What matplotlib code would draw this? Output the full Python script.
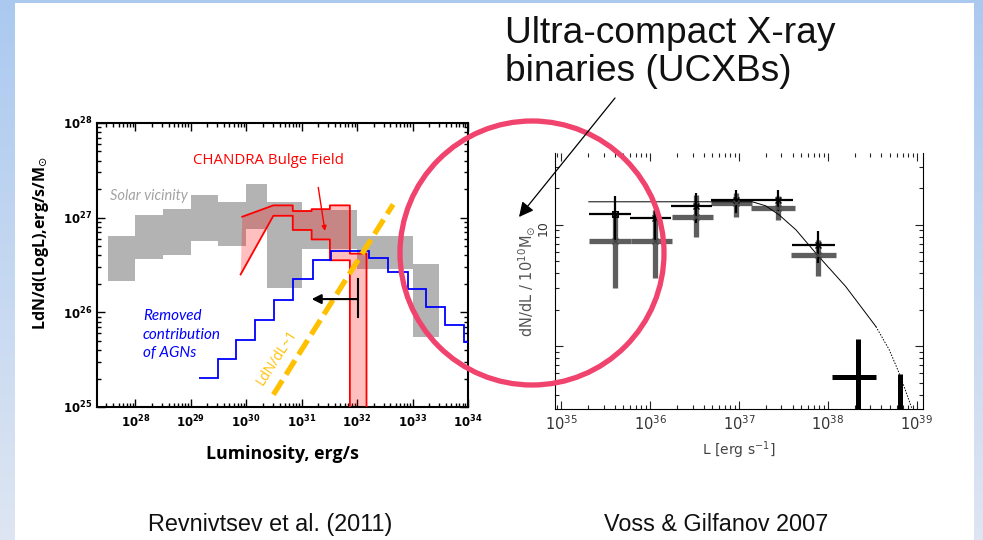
import numpy as np
import matplotlib
matplotlib.use("Agg")
import matplotlib.pyplot as plt
from matplotlib import patches
from matplotlib.ticker import LogLocator, NullFormatter, FixedLocator, FixedFormatter

# ---------------- data: left panel (log10 values) ----------------
gray_edges = [27.5, 28.0, 28.5, 29.0, 29.5, 30.0, 30.37, 31.0, 32.0, 33.0, 33.48]
gray_top = [26.81, 27.03, 27.09, 27.24, 27.17, 27.36, 27.17, 27.08, 26.81, 26.51]
gray_bot = [26.33, 26.56, 26.61, 26.75, 26.70, 26.88, 26.26, 26.67, 26.46, 25.74]

red_edges = [30.49, 30.84, 31.18, 31.51, 31.87, 32.17]
red_upper = [27.13, 27.07, 27.09, 27.13, 26.62]
red_lower = [27.02, 26.87, 26.77, 26.55, 25.0]
red_ramp_L = [29.93, 29.90]          # start of upper / lower ramps
red_ramp_Y = [27.01, 26.40]

blue_edges = [29.15, 29.49, 29.82, 30.16, 30.50, 30.84, 31.20, 31.53, 31.87,
              32.22, 32.56, 32.91, 33.24, 33.59, 33.93, 34.0]
blue_vals = [25.31, 25.51, 25.71, 25.92, 26.13, 26.35, 26.55, 26.65, 26.65,
             26.57, 26.43, 26.25, 26.06, 25.87, 25.69]

orange_L = [30.49, 32.65]
orange_Y = [25.13, 27.14]

limit_L = [32.01, 31.18]      # upper-limit arrow (from, to)
limit_Y = 26.14
limit_bar = [25.95, 26.35]

left_xticks = [28, 29, 30, 31, 32, 33, 34]
left_yticks = [25, 26, 27, 28]

# ---------------- data: right panel ----------------
# thick gray series
g_L = [35.61, 36.06, 36.52, 36.97, 37.44, 37.89]
g_Llo = [35.31, 35.78, 36.25, 36.68, 37.13, 37.58]
g_Lhi = [35.78, 36.25, 36.71, 37.15, 37.63, 38.09]
g_Y = [0.863, 0.863, 1.06, 1.178, 1.142, 0.753]
g_Ylo = [0.479, 0.562, 0.896, 1.063, 1.036, 0.575]
g_Yhi = [1.096, 1.12, 1.247, 1.26, 1.233, 0.877]

# thin black series
b_L = [35.61, 36.06, 36.52, 36.97, 37.44, 37.89]
b_Llo = [35.31, 35.77, 36.23, 36.68, 37.16, 37.60]
b_Lhi = [35.79, 36.24, 36.70, 37.16, 37.61, 38.08]
b_Y = [1.090, 1.052, 1.151, 1.20, 1.205, 0.833]
b_Ylo = [0.86, 0.877, 1.014, 1.096, 1.11, 0.685]
b_Yhi = [1.233, 1.184, 1.26, 1.288, 1.288, 0.945]

# thick black (high luminosity) points
k_L = [38.34, 38.81]
k_Llo = [38.05, 38.62]
k_Lhi = [38.54, 38.98]
k_Y = [-0.247, -0.70]
k_Ylo = [-0.80, -0.90]
k_Yhi = [0.06, -0.227]

# model curve
m_L = [35.31, 37.15, 37.30, 37.45, 37.64, 37.89, 38.20, 38.54, 38.69, 38.81, 38.95]
m_Y = [1.189, 1.189, 1.156, 1.082, 0.959, 0.745, 0.493, 0.164, -0.027, -0.233, -0.52]
m_split = 7   # solid up to this index, dotted afterwards

right_xticks = [35, 36, 37, 38, 39]

W, H = 983, 540
fig = plt.figure(figsize=(W / 100, H / 100), dpi=100)

# ---------------- slide background ----------------
axbg = fig.add_axes([0, 0, 1, 1], zorder=-10)
grad = np.linspace(0, 1, 256)[:, None]
c_top = np.array([0.67, 0.79, 0.94])
c_bot = np.array([0.87, 0.90, 0.95])
img = c_top[None, None, :] * (1 - grad[:, :, None]) + c_bot[None, None, :] * grad[:, :, None]
axbg.imshow(img, extent=(0, W, H, 0), aspect='auto')
axbg.add_patch(patches.Rectangle((15, 3), 974 - 15, H - 3, color='white', lw=0))
axbg.set_xlim(0, W); axbg.set_ylim(H, 0); axbg.axis('off')


def frac(x0, y0, x1, y1):
    return [x0 / W, 1 - y1 / H, (x1 - x0) / W, (y1 - y0) / H]


p = lambda v: 10 ** np.asarray(v, dtype=float)

# ---------------- left panel ----------------
axl = fig.add_axes(frac(97, 123, 468, 407))
axl.set_xscale('log'); axl.set_yscale('log')
axl.set_xlim(p(27.31), p(34.0)); axl.set_ylim(p(25), p(28))

axl.stairs(p(gray_top), p(gray_edges), baseline=p(gray_bot), fill=True,
           color='#b3b3b3', lw=0, zorder=1)

# red band
up_x = [red_ramp_L[0]]; up_y = [red_ramp_Y[0]]
for i, v in enumerate(red_upper):
    up_x += [red_edges[i], red_edges[i + 1]]; up_y += [v, v]
up_x += [red_edges[-1]]; up_y += [25.0]
lo_x = [red_ramp_L[1]]; lo_y = [red_ramp_Y[1]]
for i, v in enumerate(red_lower[:-1]):
    lo_x += [red_edges[i], red_edges[i + 1]]; lo_y += [v, v]
lo_x += [red_edges[-2]]; lo_y += [red_lower[-1]]
poly = np.column_stack([p(up_x + lo_x[::-1]), p(up_y + lo_y[::-1])])
axl.add_patch(patches.Polygon(poly, closed=True, facecolor=(1, 0, 0, 0.25), lw=0, zorder=2))
axl.plot(p(up_x), p(up_y), color='red', lw=1.3, zorder=3)
axl.plot(p(lo_x), p(lo_y), color='red', lw=1.3, zorder=3)

axl.stairs(p(blue_vals), p(blue_edges), baseline=None, color='blue', lw=1.3, zorder=4)

axl.plot(p(orange_L), p(orange_Y), color='#ffc000', lw=3.8, dashes=(3.2, 1.3),
         solid_capstyle='butt', dash_capstyle='butt', zorder=5)
axl.text(p(30.55), p(25.52), 'LdN/dL~1', color='#ffc000', rotation=57,
         ha='center', va='center', fontsize=10, family='Open Sans', zorder=6)

axl.annotate('', xy=(p(limit_L[1]), p(limit_Y)), xytext=(p(limit_L[0]), p(limit_Y)),
             arrowprops=dict(arrowstyle='-|>', color='black', lw=1.5, mutation_scale=14,
                             shrinkA=0, shrinkB=0), zorder=6)
axl.plot(p([limit_L[0], limit_L[0]]), p(limit_bar), color='black', lw=1.5, zorder=6)

axl.annotate('', xy=(p(31.42), p(26.86)), xytext=(p(31.30), p(27.32)),
             arrowprops=dict(arrowstyle='-|>', color='red', lw=1.0, mutation_scale=7,
                             shrinkA=0, shrinkB=0), zorder=6)

axl.text(p(30.40), p(27.60), 'CHANDRA Bulge Field', color='red', fontsize=10.8,
         family='Open Sans', ha='center', va='center')
axl.text(p(28.24), p(27.23), 'Solar vicinity', color='#a3a3a3', fontsize=10.5,
         family='Lato', style='italic', ha='center', va='center')
axl.text(p(28.14), p(25.765), 'Removed\ncontribution\nof AGNs', color='blue', fontsize=11,
         family='Lato', style='italic', ha='left', va='center', linespacing=1.38)

axl.xaxis.set_major_locator(FixedLocator(p(left_xticks)))
axl.xaxis.set_major_formatter(FixedFormatter([r'$\mathbf{10^{%d}}$' % t for t in left_xticks]))
axl.yaxis.set_major_locator(FixedLocator(p(left_yticks)))
axl.yaxis.set_major_formatter(FixedFormatter([r'$\mathbf{10^{%d}}$' % t for t in left_yticks]))
for a in (axl.xaxis, axl.yaxis):
    a.set_minor_locator(LogLocator(base=10, subs=np.arange(2, 10), numticks=50))
    a.set_minor_formatter(NullFormatter())
axl.tick_params(which='both', direction='in', top=True, right=True, width=1.0, labelsize=8.5)
axl.tick_params(which='major', length=6)
axl.tick_params(which='minor', length=3)
axl.tick_params(axis='x', pad=5)
for s in axl.spines.values():
    s.set_linewidth(1.5)
axl.set_xlabel('Luminosity, erg/s', fontsize=12.8, fontweight='bold', family='Open Sans')
axl.xaxis.set_label_coords(0.5, -0.135)
axl.set_ylabel(r'LdN/d(LogL),erg/s/M$_{\odot}$', fontsize=11.5, fontweight='bold',
               family='Open Sans')
axl.yaxis.set_label_coords(-0.125, 0.577)

# ---------------- right panel ----------------
axr = fig.add_axes(frac(555, 153, 923, 409))
axr.set_xscale('log'); axr.set_yscale('log')
axr.set_xlim(p(34.93), p(39.07)); axr.set_ylim(p(-0.514), p(1.59))


def eb(L, Llo, Lhi, Y, Ylo, Yhi, **kw):
    x = p(L); y = p(Y)
    xerr = [x - p(Llo), p(Lhi) - x]
    yerr = [y - p(Ylo), p(Yhi) - y]
    axr.errorbar(x, y, xerr=xerr, yerr=yerr, fmt='none', capsize=0, **kw)


eb(g_L, g_Llo, g_Lhi, g_Y, g_Ylo, g_Yhi, ecolor='#5e5e5e', elinewidth=3.8, zorder=2)
axr.plot(p(m_L[:m_split + 1]), p(m_Y[:m_split + 1]), color='black', lw=0.7, zorder=3)
axr.plot(p(m_L[m_split:]), p(m_Y[m_split:]), color='black', lw=0.7, ls=(0, (1.5, 1.5)), zorder=3)
eb(b_L, b_Llo, b_Lhi, b_Y, b_Ylo, b_Yhi, ecolor='black', elinewidth=1.6, zorder=4)
eb(k_L, k_Llo, k_Lhi, k_Y, k_Ylo, k_Yhi, ecolor='black', elinewidth=3.6, zorder=4)
axr.plot(p(b_L), p(b_Y), 'x', color='black', ms=4, mew=1, zorder=5)
axr.plot(p(g_L), p(g_Y), 'x', color='#444444', ms=4, mew=1, zorder=5)
axr.plot(p(b_L[:1]), p(b_Y[:1]), 's', mfc='none', mec='black', ms=5, mew=0.8, zorder=6)

axr.xaxis.set_major_locator(FixedLocator(p(right_xticks)))
axr.xaxis.set_major_formatter(FixedFormatter([r'$10^{%d}$' % t for t in right_xticks]))
axr.xaxis.set_minor_locator(LogLocator(base=10, subs=np.arange(2, 10), numticks=50))
axr.xaxis.set_minor_formatter(NullFormatter())
axr.yaxis.set_major_locator(FixedLocator([1, 10]))
axr.yaxis.set_major_formatter(FixedFormatter(['', '10']))
axr.yaxis.set_minor_locator(LogLocator(base=10, subs=np.arange(2, 10), numticks=50))
axr.yaxis.set_minor_formatter(NullFormatter())
axr.tick_params(which='both', direction='in', top=True, right=True, width=0.8,
                colors='#222222', labelsize=10.5, labelcolor='#333333')
axr.tick_params(which='major', length=6)
axr.tick_params(which='minor', length=3)
axr.tick_params(axis='y', labelrotation=90, labelsize=9)
axr.spines['top'].set_visible(False)
for s in ('left', 'bottom', 'right'):
    axr.spines[s].set_linewidth(0.8)
axr.set_xlabel(r'L [erg s$^{-1}$]', fontsize=10, color='#444444')
axr.xaxis.set_label_coords(0.5, -0.12)
axr.set_ylabel(r'dN/dL / 10$^{10}$M$_{\odot}$', fontsize=10.5, color='#555555')
axr.yaxis.set_label_coords(-0.049, 0.5)

# ---------------- slide overlay ----------------
axo = fig.add_axes([0, 0, 1, 1], zorder=20)
axo.set_xlim(0, W); axo.set_ylim(H, 0); axo.axis('off'); axo.patch.set_alpha(0)
axo.add_patch(patches.Circle((532, 253), 132, fill=False, ec='#f0436d', lw=3.8))
axo.annotate('', xy=(519, 217), xytext=(615, 98),
             arrowprops=dict(arrowstyle='-|>', color='black', lw=0.9, mutation_scale=22,
                             shrinkA=0, shrinkB=0))
axo.text(505, 43, 'Ultra-compact X-ray', fontsize=26.7, family='Liberation Sans',
         ha='left', va='baseline', color='#111111')
axo.text(505, 81, 'binaries (UCXBs)', fontsize=26.7, family='Liberation Sans',
         ha='left', va='baseline', color='#111111')
axo.text(270, 531, 'Revnivtsev et al. (2011)', fontsize=16.8, family='Liberation Sans',
         ha='center', va='baseline', color='#111111')
axo.text(716, 531, 'Voss & Gilfanov 2007', fontsize=16.8, family='Liberation Sans',
         ha='center', va='baseline', color='#111111')

fig.savefig('out.png', dpi=100)
